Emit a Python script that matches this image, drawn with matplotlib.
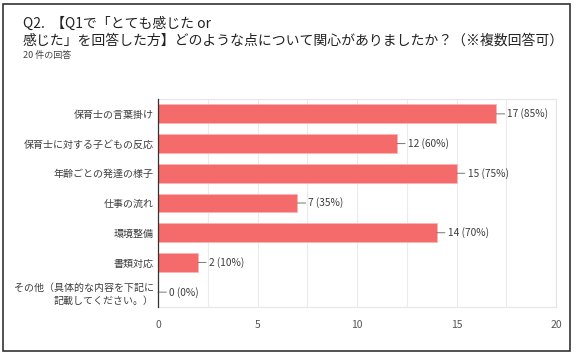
import matplotlib.pyplot as plt
from matplotlib.patches import Rectangle

plt.rcParams['font.family'] = ['Noto Sans CJK JP', 'DejaVu Sans']

# Data
categories = [
    "保育士の言葉掛け",
    "保育士に対する子どもの反応",
    "年齢ごとの発達の様子",
    "仕事の流れ",
    "環境整備",
    "書類対応",
    "その他（具体的な内容を下記に\n記載してください。）",
]
counts = [17, 12, 15, 7, 14, 2, 0]
total = 20
xticks = [0, 5, 10, 15, 20]

title_1 = "Q2.  【Q1で「とても感じた or"
title_2 = "感じた」を回答した方】どのような点について関心がありましたか？（※複数回答可）"
subtitle = "20 件の回答"

bar_color = "#f56b6b"
text_color = "#3c3c3c"

fig = plt.figure(figsize=(5.78, 3.57), dpi=100)
ax = fig.add_axes([158/578, 1-307/357, (556-158)/578, (307-99)/357])

ypos = list(range(len(categories)))
ax.barh(ypos, counts, height=0.63, color=bar_color, edgecolor="#fbb5b5", linewidth=0.6, zorder=3)

# value labels with short leader line
for y, c in zip(ypos, counts):
    ax.annotate(f"{c} ({c*100//total}%)", xy=(c, y), xytext=(8, 0), textcoords="offset points",
                ha="left", va="center", fontsize=7.3, color=text_color,
                arrowprops=dict(arrowstyle="-", color="#777777", lw=0.7, shrinkA=0, shrinkB=0))

ax.set_xlim(0, 20)
ax.set_ylim(len(categories) - 0.5, -0.5)
ax.set_xticks(xticks)
ax.set_xticks([2.5, 7.5, 12.5, 17.5], minor=True)
ax.set_xticklabels([str(t) for t in xticks], fontsize=7.5, color="#555555")
ax.set_yticks(ypos)
ax.set_yticklabels(categories, fontsize=7.2, color=text_color, linespacing=1.4)
ax.tick_params(axis="both", length=0, pad=3)
ax.tick_params(axis="x", pad=9)
ax.tick_params(axis="x", which="minor", length=0)
ax.grid(axis="x", which="both", color="#ebebeb", linewidth=0.8, zorder=0)

for side in ["top", "right", "bottom"]:
    ax.spines[side].set_color("#e6e6e6")
    ax.spines[side].set_linewidth(0.8)
ax.spines["left"].set_color("#333333")
ax.spines["left"].set_linewidth(0.9)
ax.spines["left"].set_zorder(4)

# titles
fig.text(23/578, 1-24/357, title_1, fontsize=10, color="#222222", va="center", ha="left")
fig.text(23/578, 1-41/357, title_2, fontsize=10, color="#222222", va="center", ha="left")
fig.text(23/578, 1-55/357, subtitle, fontsize=6.5, color="#444444", va="center", ha="left")

# outer frame
fig.patches.append(Rectangle((3/578, 1-351/357), (570-3)/578, (351-4)/357,
                             transform=fig.transFigure, fill=False,
                             edgecolor="#333333", linewidth=1.2))

plt.savefig("out.png", dpi=100)
